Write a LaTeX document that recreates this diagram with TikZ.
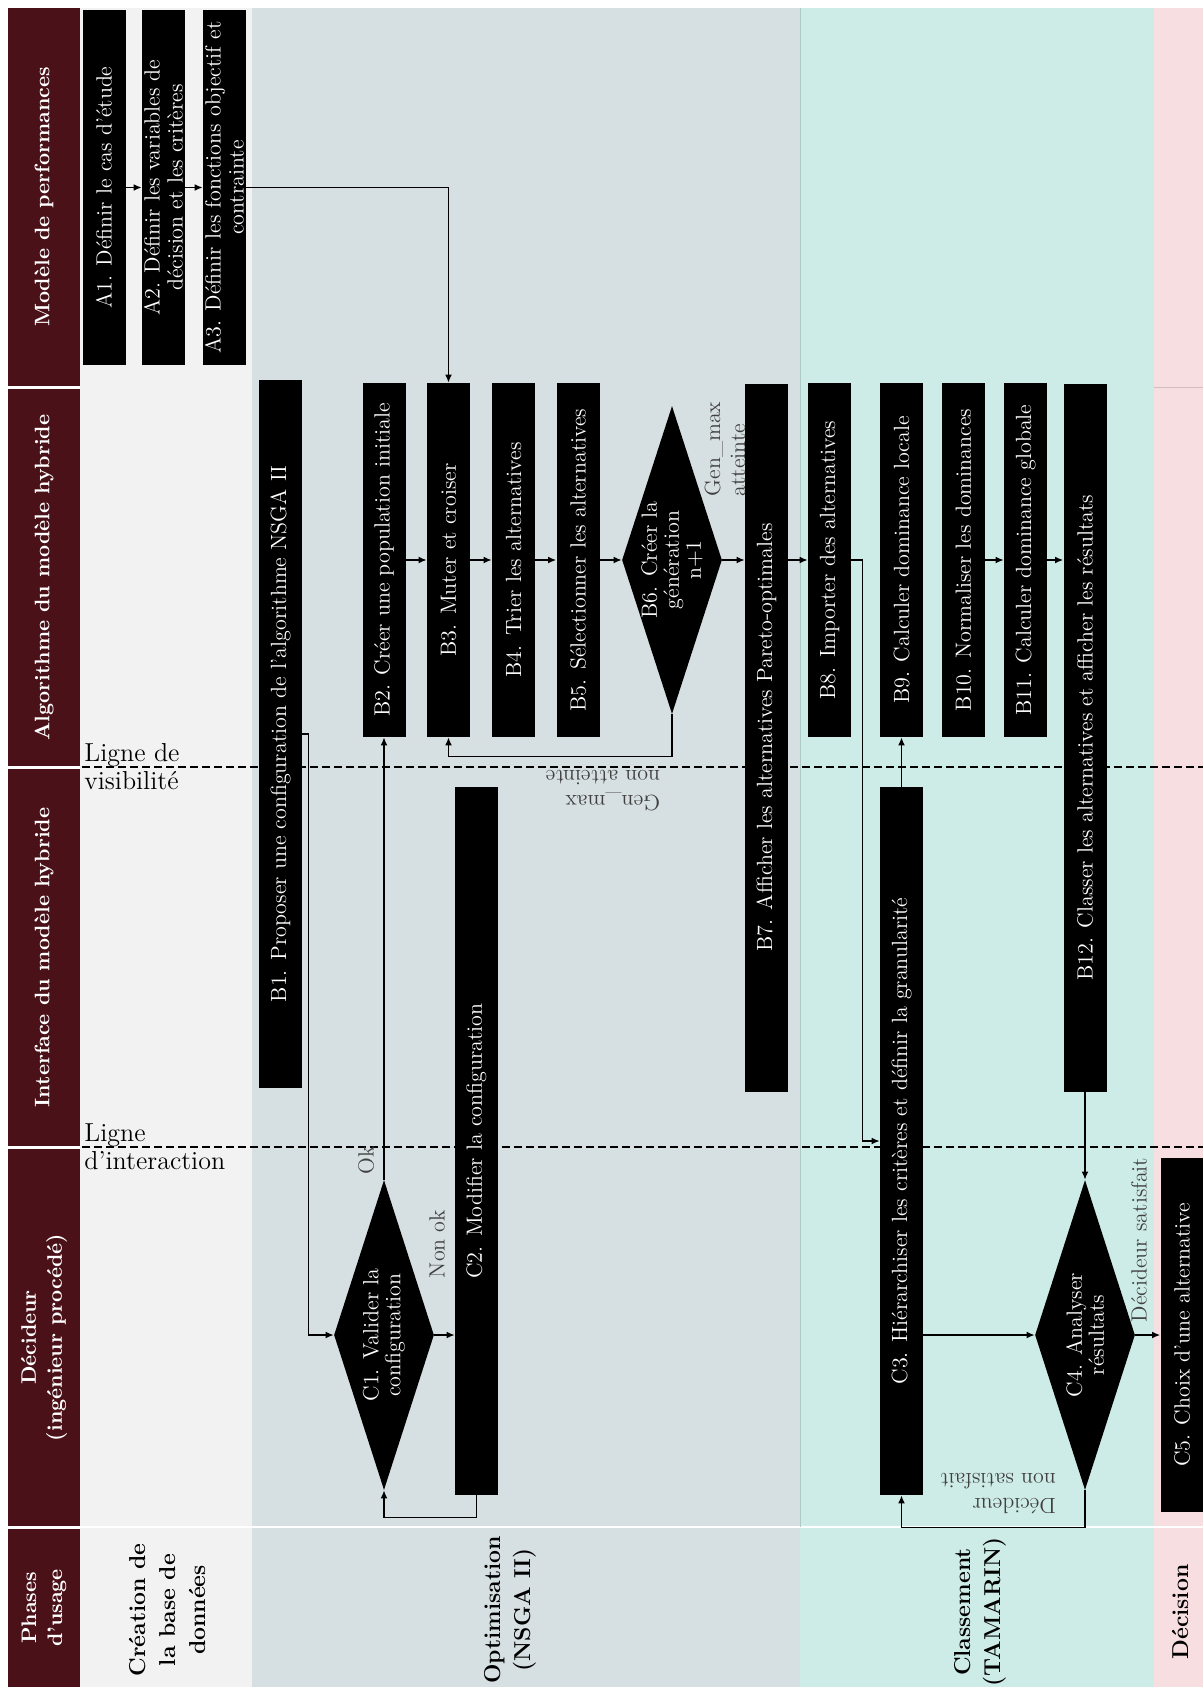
\documentclass[tikz,border=0pt]{standalone}
\usepackage{tikz}
\usetikzlibrary{arrows.meta, shapes.geometric}

\definecolor{hdrred}{RGB}{74,17,24}
\definecolor{creagrey}{RGB}{242,242,242}
\definecolor{optgrey}{RGB}{214,223,226}
\definecolor{clateal}{RGB}{206,236,231}
\definecolor{decpink}{RGB}{247,222,225}

\begin{document}
\begin{tikzpicture}[
        x=0.5pt, y=-0.5pt,
        >={Latex[length=4pt, width=3.4pt]},
        hdr/.style={fill=hdrred, text=white, rotate=90, align=center, inner sep=0pt,
                    minimum height=36pt, font=\fontsize{10.5}{13}\selectfont\bfseries},
        box/.style={fill=black, text=white, rotate=90, align=center, inner sep=0pt,
                    minimum height=21.5pt, font=\fontsize{11}{11.5}\selectfont},
        sbox/.style={box, minimum width=177pt},
        lbox/.style={box, minimum width=354pt},
        dia/.style={diamond, aspect=3.08, fill=black, text=white, rotate=90, align=center,
                    inner sep=0pt, minimum width=155pt, minimum height=50pt,
                    font=\fontsize{11}{11}\selectfont},
        lbl/.style={text=black!75, align=left, inner sep=1pt,
                    font=\fontsize{11}{12.5}\selectfont},
        phase/.style={rotate=90, align=center, font=\fontsize{11.5}{15}\selectfont\bfseries},
        seuil/.style={dash pattern=on 4pt off 2pt, line width=0.75pt},
        flow/.style={->, line width=0.6pt}
    ]
    \useasboundingbox (0,0) rectangle (1203,1691);
    \fill[white] (0,0) rectangle (1203,1691);

    % phase columns
    \fill[creagrey] (80,8) rectangle (252,1687);
    \fill[optgrey]  (252,8) rectangle (800,1687);
    \fill[clateal]  (800,8) rectangle (1154,1687);
    \fill[decpink]  (1154,8) rectangle (1203,1687);
    \draw[white, line width=1.2pt] (80,1527) -- (1203,1527);
    \draw[decpink!85!black, line width=0.4pt] (1154,387) -- (1203,387);
    \draw[clateal!85!black, line width=0.3pt] (800,8) -- (800,1527);

    % lanes
    \node[hdr, minimum width=189pt]   (perf)  at (44,197)    {Modèle de performances};
    \node[hdr, minimum width=188.5pt] (algo)  at (44,577.5)  {Algorithme du modèle hybride};
    \node[hdr, minimum width=188.5pt] (inter) at (44,957.5)  {Interface du modèle hybride};
    \node[hdr, minimum width=188.5pt] (decid) at (44,1337.5) {Décideur\\(ingénieur procédé)};
    \node[hdr, minimum width=79pt]    (usage) at (44,1608)   {Phases\\d’usage};

    \draw[seuil] (82,767) -- (1203,767);
    \draw[seuil] (82,1147) -- (1203,1147);
    \node[anchor=west, align=left, inner sep=1pt, font=\fontsize{13}{14}\selectfont]
        (visib) at (82,767) {Ligne de\\visibilité};
    \node[anchor=west, align=left, inner sep=1pt, font=\fontsize{13}{14}\selectfont]
        (interac) at (82,1147) {Ligne\\d’interaction};

    \node[phase] (crea)  at (167,1610)  {Création de\\la base de\\données};
    \node[phase] (optim) at (510,1610)  {Optimisation\\(NSGA II)};
    \node[phase] (class) at (980,1612)  {Classement\\(TAMARIN)};
    \node[phase] (decis) at (1180,1612) {Décision};

    % steps
    \node[sbox] (A1) at (104,187.5)   {A1. Définir le cas d’étude};
    \node[sbox] (A2) at (163.5,187.5) {A2. Définir les variables de\\décision et les critères};
    \node[sbox] (A3) at (224.5,187.5) {A3. Définir les fonctions objectif et\\contrainte};

    \node[lbox] (B1)  at (280.5,734)   {B1. Proposer une configuration de l’algorithme NSGA II};
    \node[sbox] (B2)  at (384,560)     {B2. Créer une population initiale};
    \node[sbox] (B3)  at (448.5,560)   {B3. Muter et croiser};
    \node[sbox] (B4)  at (513.5,560)   {B4. Trier les alternatives};
    \node[sbox] (B5)  at (578,560)     {B5. Sélectionner les alternatives};
    \node[dia, minimum width=154pt] (B6) at (672,560) {B6. Créer la\\génération\\n+1};
    \node[lbox] (B7)  at (766.5,737.5) {B7. Afficher les alternatives Pareto-optimales};
    \node[sbox] (B8)  at (829.5,560)   {B8. Importer des alternatives};
    \node[sbox] (B9)  at (901.5,560)   {B9. Calculer dominance locale};
    \node[sbox] (B10) at (963.5,560)   {B10. Normaliser les dominances};
    \node[sbox] (B11) at (1025.5,560)  {B11. Calculer dominance globale};
    \node[lbox] (B12) at (1085,737.5)  {B12. Classer les alternatives et afficher les résultats};

    \node[dia]  (C1) at (384,1335)    {C1. Valider la\\configuration};
    \node[lbox] (C2) at (476.5,1141)  {C2. Modifier la configuration};
    \node[lbox] (C3) at (901.5,1141)  {C3. Hiérarchiser les critères et définir la granularité};
    \node[dia]  (C4) at (1085,1335)   {C4. Analyser\\résultats};
    \node[sbox] (C5) at (1182,1335)   {C5. Choix d’une alternative};

    % flows
    \draw[flow] (A1) -- (A2);
    \draw[flow] (A2) -- (A3);
    \draw[flow] (A3) -| (B3);
    \draw[flow] (B1.south) -- ++(6,0) |- (C1.north);
    \draw[flow] (C1.east) -- (B2.west);
    \draw[flow] (C1) -- (C1 -| C2.north);
    \draw[flow] (C2.west) -- ++(0,22) -| (C1.west);
    \draw[flow] (B2) -- (B3);
    \draw[flow] (B3) -- (B4);
    \draw[flow] (B4) -- (B5);
    \draw[flow] (B5) -- (B6);
    \draw[flow] (B6) -- (B6 -| B7.north);
    \draw[flow] (B6.west) -- ++(0,42) -| (B3.west);
    \draw[flow] (B8 -| B7.south) -- (B8);
    \draw[flow] (B8.south) -- ++(11,0) |- (C3.north);
    \draw[flow] (C3.east) -- (B9.west);
    \draw[flow] (B10) -- (B11);
    \draw[flow] (B11) -- (B11 -| B12.north);
    \draw[flow] (B12.west) -- (C4.east);
    \draw[flow] (C4 -| C3.south) -- (C4);
    \draw[flow] (C4) -- (C5);
    \draw[flow] (C4.west) -- ++(0,37) -| (C3.west);

    \node[lbl, rotate=90]  (ok)    at (366,1160)  {Ok};
    \node[lbl, rotate=90]  (nonok) at (437,1244)  {Non ok};
    \node[lbl, rotate=90]  (gmax)  at (725,449)   {Gen\_max\\atteinte};
    \node[lbl, rotate=180] (gnon)  at (603,791)   {Gen\_max\\non atteinte};
    \node[lbl, rotate=90]  (dsat)  at (1139,1240) {Décideur satisfait};
    \node[lbl, rotate=180] (dnon)  at (998,1494)  {Décideur\\non satisfait};
\end{tikzpicture}
\end{document}
